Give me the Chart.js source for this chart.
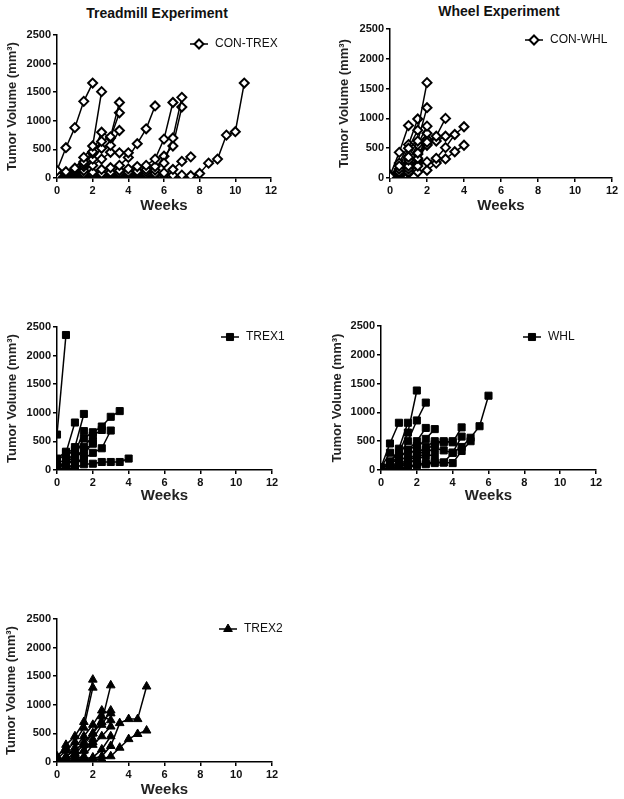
<!DOCTYPE html>
<html>
<head>
<meta charset="utf-8">
<script src="https://cdn.jsdelivr.net/npm/chart.js@4.4.1/dist/chart.umd.min.js"></script>
<style>
  body { margin: 0; background: #fff; width: 624px; height: 799px; position: relative; overflow: hidden; }
  canvas { position: absolute; }
  .ttl { position: absolute; font: bold 14px "Liberation Sans", Arial, sans-serif; color: #111; white-space: nowrap; transform: translateX(-50%); }
</style>
</head>
<body>
<div class="ttl" style="left:157px;top:5px;">Treadmill Experiment</div>
<div class="ttl" style="left:499px;top:3px;">Wheel Experiment</div>
<canvas id="conTrexChart" style="left:0;top:0" width="300" height="215"></canvas>
<canvas id="conWhlChart" style="left:312px;top:0" width="312" height="215"></canvas>
<canvas id="trex1Chart" style="left:0;top:290px" width="300" height="215"></canvas>
<canvas id="whlChart" style="left:312px;top:290px" width="312" height="215"></canvas>
<canvas id="trex2Chart" style="left:0;top:580px" width="300" height="219"></canvas>
<script>
// weeks are sampled every half week, each mouse starts at week 0
const weeks = [0, 0.5, 1, 1.5, 2, 2.5, 3, 3.5, 4, 4.5, 5, 5.5, 6, 6.5, 7, 7.5, 8, 8.5, 9, 9.5, 10, 10.5];
const weekTicks = [0, 2, 4, 6, 8, 10, 12];
const volumeTicks = [0, 500, 1000, 1500, 2000, 2500];

// *****Treadmill control***** //
const conTrex = [
  [130, 530, 880, 1340, 1660],
  [60, 110, 170, 360, 560, 1510],
  [40, 90, 150, 280, 460, 640, 720, 1320],
  [20, 60, 120, 240, 430, 800, 700, 1140],
  [10, 40, 100, 200, 330, 520, 570, 830],
  [20, 40, 80, 130, 220, 330, 450, 440, 440],
  [0, 20, 50, 80, 100, 150, 180, 220, 360, 600, 860, 1260],
  [0, 10, 30, 50, 60, 80, 100, 130, 160, 200, 220, 330, 680, 1320],
  [0, 10, 20, 30, 40, 60, 80, 90, 100, 120, 150, 200, 260, 700, 1410],
  [0, 0, 10, 20, 30, 40, 50, 60, 80, 90, 110, 140, 380, 560, 1240],
  [0, 0, 10, 10, 20, 30, 40, 40, 50, 60, 70, 80, 90, 150, 290, 370],
  [0, 0, 0, 10, 10, 20, 20, 30, 30, 40, 40, 50, 50, 50, 50, 40, 80, 260, 330, 750, 810, 1660]
];

// *****Wheel control***** //
const conWhl = [
  [30, 200, 500, 800, 1600],
  [50, 150, 350, 620, 1180],
  [40, 430, 880],
  [20, 250, 560, 990],
  [30, 100, 300, 560, 870],
  [10, 80, 200, 420, 600, 700, 1000],
  [0, 60, 150, 330, 550, 620, 700],
  [0, 40, 100, 200, 270, 330, 510, 730, 860],
  [0, 30, 80, 100, 130, 250, 320, 440, 550],
  [20, 60, 120, 300, 750],
  [10, 100, 250, 400, 560],
  [0, 50, 180, 250, 650]
];

// *****Treadmill 1***** //
const trex1 = [
  [620, 2360],
  [150, 300, 830],
  [100, 200, 400, 980],
  [50, 150, 300, 680],
  [80, 120, 250, 550, 660, 760, 930, 1030],
  [30, 80, 180, 400, 600, 700],
  [10, 40, 100, 200, 300, 380, 690],
  [0, 20, 40, 100, 110, 140, 140, 140, 200],
  [50, 100, 200, 350, 460],
  [200, 320, 350],
  [0, 30, 80, 250, 500]
];

// *****Wheel***** //
const whl = [
  [50, 460, 820],
  [30, 150, 300, 650, 1380],
  [20, 100, 250, 500, 860, 1170],
  [10, 120, 370, 820],
  [20, 100, 200, 350, 500, 730],
  [10, 50, 150, 250, 380, 540, 710],
  [0, 30, 80, 150, 250, 350, 450, 500, 480, 740],
  [0, 20, 50, 100, 200, 300, 380, 340, 300, 580],
  [0, 10, 30, 60, 100, 120, 140, 130, 300, 400, 560, 760, 1290],
  [0, 10, 20, 40, 80, 100, 120, 130, 120, 330, 500],
  [0, 50, 100, 180, 280, 400, 500, 480, 500],
  [40, 300, 200, 350, 420],
  [0, 20, 60, 120, 180, 250, 260]
];

// *****Treadmill 2***** //
const trex2 = [
  [80, 300, 450, 700, 1440],
  [50, 200, 350, 600, 1300],
  [30, 100, 200, 350, 500, 700, 1340],
  [20, 80, 250, 450, 650, 900, 850],
  [10, 50, 150, 300, 500, 800, 730],
  [0, 30, 100, 200, 400, 650, 900],
  [0, 10, 20, 40, 60, 100, 280, 680, 750, 750, 1320],
  [0, 0, 10, 20, 30, 50, 100, 250, 400, 490, 550],
  [0, 20, 50, 100, 300, 450, 620],
  [0, 10, 30, 60, 80, 220, 450],
  [100, 250, 130, 200, 350]
];

const FONT = '"Liberation Sans", Arial, sans-serif';

const markers = {
  diamond: { pointStyle: 'rectRot', radius: 4.5, bg: '#fff', bw: 2 },
  square: { pointStyle: 'rect', radius: 5, bg: '#000', bw: 1 },
  triangle: { pointStyle: 'triangle', radius: 5, bg: '#000', bw: 1 }
};

function drawMarker(ctx, kind, x, y) {
  const m = markers[kind];
  ctx.save();
  ctx.fillStyle = m.bg;
  ctx.strokeStyle = '#000';
  ctx.lineWidth = m.bw;
  ctx.beginPath();
  if (kind === 'diamond') {
    const r = m.radius;
    ctx.moveTo(x, y - r); ctx.lineTo(x + r, y); ctx.lineTo(x, y + r); ctx.lineTo(x - r, y); ctx.closePath();
  } else if (kind === 'square') {
    const s = m.radius * Math.SQRT1_2;
    ctx.rect(x - s, y - s, 2 * s, 2 * s);
  } else {
    const r = m.radius;
    ctx.moveTo(x, y - r);
    ctx.lineTo(x + r * 0.866, y + r * 0.5);
    ctx.lineTo(x - r * 0.866, y + r * 0.5);
    ctx.closePath();
  }
  ctx.fill();
  ctx.stroke();
  ctx.restore();
}

// legend sits inside the plot area, top right, like the original figure
const inlineLegend = {
  id: 'inlineLegend',
  afterDraw(chart, args, opts) {
    const ctx = chart.ctx;
    const x = chart.chartArea.left + opts.dx;
    const y = chart.chartArea.top + opts.dy;
    ctx.save();
    ctx.strokeStyle = '#000';
    ctx.lineWidth = 1.5;
    ctx.beginPath();
    ctx.moveTo(x - 9, y);
    ctx.lineTo(x + 9, y);
    ctx.stroke();
    drawMarker(ctx, opts.kind, x, y);
    ctx.fillStyle = '#111';
    ctx.font = '12px ' + FONT;
    ctx.textBaseline = 'middle';
    ctx.fillText(opts.text, x + 16, y);
    ctx.restore();
  }
};

function makePanel(id, mice, label, kind, box) {
  const el = document.getElementById(id);
  if (!el) return;
  const m = markers[kind];
  const datasets = mice.map(vals => ({
    label: label,
    data: vals.map((v, i) => ({ x: weeks[i], y: v })),
    borderColor: '#000',
    borderWidth: 1.5,
    pointStyle: m.pointStyle,
    pointRadius: m.radius,
    pointBackgroundColor: m.bg,
    pointBorderColor: '#000',
    pointBorderWidth: m.bw,
    tension: 0,
    fill: false
  }));
  return new Chart(el, {
    type: 'line',
    data: { datasets: datasets },
    plugins: [inlineLegend],
    options: {
      responsive: false,
      animation: false,
      layout: { padding: { left: box.padLeft, top: box.top, right: box.right, bottom: 0 } },
      plugins: {
        legend: { display: false },
        tooltip: { enabled: false },
        inlineLegend: { dx: box.legX, dy: box.legY, kind: kind, text: label }
      },
      scales: {
        x: {
          type: 'linear',
          min: 0, max: 12,
          afterBuildTicks: s => { s.ticks = weekTicks.map(v => ({ value: v })); },
          afterFit: s => { s.height = box.xHeight; },
          grid: { drawOnChartArea: false, drawTicks: true, tickLength: 4, color: '#000', lineWidth: 1.5 },
          border: { color: '#000', width: 1.5 },
          ticks: { color: '#111', padding: 2, callback: v => String(v), font: { family: FONT, size: 11, weight: 'bold' } },
          title: { display: true, text: 'Weeks', color: '#222', padding: { top: 2, bottom: 0 }, font: { family: FONT, size: 15, weight: 'bold' } }
        },
        y: {
          min: 0, max: 2500,
          afterBuildTicks: s => { s.ticks = volumeTicks.map(v => ({ value: v })); },
          afterFit: s => { s.width = box.yWidth; },
          grid: { drawOnChartArea: false, drawTicks: true, tickLength: 4, color: '#000', lineWidth: 1.5 },
          border: { color: '#000', width: 1.5 },
          ticks: { color: '#111', padding: 2, callback: v => String(v), font: { family: FONT, size: 11, weight: 'bold' } },
          title: { display: true, text: 'Tumor Volume (mm³)', color: '#222', padding: { top: 0, bottom: 2 }, font: { family: FONT, size: 13, weight: 'bold' } }
        }
      }
    }
  });
}

makePanel('conTrexChart', conTrex, 'CON-TREX', 'diamond',
  { padLeft: 5, yWidth: 52, top: 35, right: 29, xHeight: 37, legX: 142, legY: 9 });
makePanel('conWhlChart', conWhl, 'CON-WHL', 'diamond',
  { padLeft: 25, yWidth: 53, top: 29, right: 12, xHeight: 37, legX: 144, legY: 11 });
makePanel('trex1Chart', trex1, 'TREX1', 'square',
  { padLeft: 5, yWidth: 52, top: 37, right: 28, xHeight: 35, legX: 173, legY: 10 });
makePanel('whlChart', whl, 'WHL', 'square',
  { padLeft: 18, yWidth: 51, top: 36, right: 28, xHeight: 35, legX: 151, legY: 11 });
makePanel('trex2Chart', trex2, 'TREX2', 'triangle',
  { padLeft: 4, yWidth: 53, top: 39, right: 28, xHeight: 37, legX: 171, legY: 10 });
</script>
</body>
</html>
